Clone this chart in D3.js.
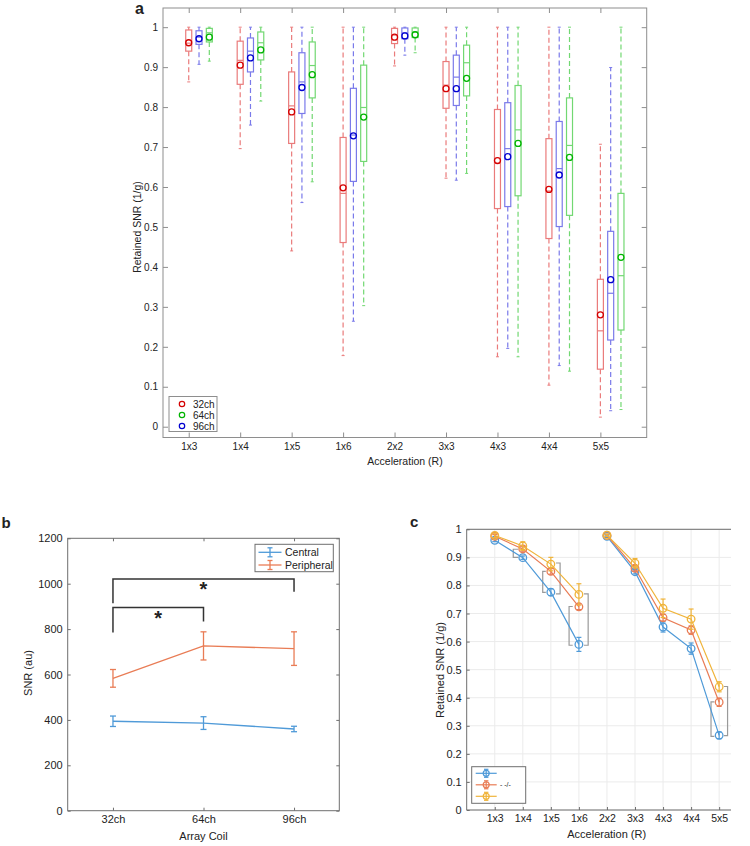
<!DOCTYPE html>
<html><head><meta charset="utf-8">
<script src="https://cdn.jsdelivr.net/npm/d3@7"></script>
<style>
body{margin:0;background:#fff}
svg{display:block}
text{font-family:"Liberation Sans",Arial,Helvetica,sans-serif;fill:#222}
</style>
</head><body>
<svg id="fig" width="750" height="846"></svg>
<script>
// ---------- DATA ----------
const cats = ["1x3","1x4","1x5","1x6","2x2","3x3","4x3","4x4","5x5"];
const yTicksA = [0,0.1,0.2,0.3,0.4,0.5,0.6,0.7,0.8,0.9,1];

// panel a: 32ch (red)
const lo32  = [0.863,0.696,0.440,0.178,0.903,0.622,0.175,0.104,0.024];
const q1_32 = [0.940,0.857,0.709,0.461,0.959,0.797,0.546,0.471,0.144];
const med32 = [0.960,0.917,0.803,0.584,0.980,0.855,0.660,0.590,0.240];
const q3_32 = [0.993,0.965,0.888,0.724,0.997,0.914,0.794,0.721,0.369];
const hi32  = [1,1,1,1,1,1,1,1,0.707];
const mean32= [0.961,0.905,0.788,0.598,0.975,0.846,0.666,0.594,0.280];
// 96ch (blue)
const lo96  = [0.907,0.755,0.561,0.264,0.930,0.617,0.196,0.153,0.040];
const q1_96 = [0.957,0.888,0.784,0.614,0.971,0.804,0.551,0.501,0.217];
const med96 = [0.975,0.940,0.863,0.730,0.986,0.875,0.696,0.646,0.334];
const q3_96 = [0.991,0.973,0.936,0.847,0.998,0.930,0.811,0.764,0.489];
const hi96  = [1,1,1,1,1,1,1,1,0.899];
const mean96= [0.971,0.923,0.849,0.728,0.978,0.846,0.676,0.630,0.368];
// 64ch (green)
const lo64  = [0.915,0.815,0.613,0.303,0.936,0.634,0.175,0.139,0.043];
const q1_64 = [0.963,0.918,0.823,0.664,0.974,0.828,0.578,0.529,0.242];
const med64 = [0.986,0.961,0.904,0.799,0.988,0.911,0.743,0.704,0.378];
const q3_64 = [0.997,0.988,0.963,0.905,0.998,0.955,0.854,0.823,0.584];
const hi64  = [1,1,1,1,1,1,1,1,1];
const mean64= [0.975,0.943,0.881,0.775,0.981,0.872,0.709,0.674,0.424];

// panel b
const coils = ["32ch","64ch","96ch"];
const yTicksB = [0,200,400,600,800,1000,1200];
const central = [394,386,360];
const centralErr = [23,28,12];
const peripheral = [583,726,714];
const peripheralErr = [39,62,74];
const sigB = [ {a:1,b:3,top:1021,la:914,lb:965}, {a:1,b:2,top:895,la:785,lb:833} ];

// panel c
const cBlue = [0.961,0.899,0.776,0.590,0.975,0.849,0.652,0.575,0.266];
const cBlueErr = [0.005,0.006,0.012,0.025,0.004,0.008,0.018,0.020,0.012];
const cOrange = [0.975,0.930,0.850,0.724,0.978,0.861,0.685,0.641,0.384];
const cOrangeErr = [0.006,0.008,0.010,0.010,0.004,0.010,0.012,0.015,0.015];
const cYellow = [0.978,0.9405,0.876,0.768,0.979,0.879,0.7185,0.680,0.439];
const cYellowErr = [0.008,0.015,0.024,0.038,0.004,0.017,0.033,0.036,0.018];
const cBrackets = [
  {x:1.66,tip:1.84,y1:0.929,y2:0.900},
  {x:2.71,tip:2.82,y1:0.850,y2:0.775},
  {x:3.33,tip:3.18,y1:0.880,y2:0.770},
  {x:3.65,tip:3.78,y1:0.725,y2:0.587},
  {x:4.33,tip:4.18,y1:0.770,y2:0.587},
  {x:8.71,tip:8.83,y1:0.385,y2:0.262},
  {x:9.30,tip:9.17,y1:0.440,y2:0.265}
];

// ---------- DRAW ----------
const svg = d3.select("#fig");
const fmtA = d => d===0?"0":d===1?"1":d.toFixed(1);

function frameAxes(g, x, y, xt, yt, xfmt, yfmt, col, fs, tick, right=true){
  const [x0,x1] = x.range(), [y0,y1] = y.range();
  g.append("g").attr("transform",`translate(0,${y0})`)
    .call(d3.axisBottom(x).tickValues(xt).tickFormat(xfmt).tickSizeInner(-tick).tickSizeOuter(0).tickPadding(5))
    .call(s=>{s.select(".domain").remove();s.selectAll("line").attr("stroke",col);s.selectAll("text").attr("font-size",fs).attr("fill","#222").attr("font-family","Liberation Sans, Arial, sans-serif");});
  g.append("g").attr("transform",`translate(${x0},0)`)
    .call(d3.axisLeft(y).tickValues(yt).tickFormat(yfmt).tickSizeInner(-tick).tickSizeOuter(0).tickPadding(5))
    .call(s=>{s.select(".domain").remove();s.selectAll("line").attr("stroke",col);s.selectAll("text").attr("font-size",fs).attr("fill","#222").attr("font-family","Liberation Sans, Arial, sans-serif");});
  g.append("g").attr("transform",`translate(0,${y1})`)
    .call(d3.axisTop(x).tickValues(xt).tickFormat("").tickSizeInner(-tick).tickSizeOuter(0))
    .call(s=>{s.select(".domain").remove();s.selectAll("line").attr("stroke",col);});
  if(right){
    g.append("g").attr("transform",`translate(${x1},0)`)
      .call(d3.axisRight(y).tickValues(yt).tickFormat("").tickSizeInner(-tick).tickSizeOuter(0))
      .call(s=>{s.select(".domain").remove();s.selectAll("line").attr("stroke",col);});
  }
  g.append("rect").attr("x",x0).attr("y",y1).attr("width",x1-x0).attr("height",y0-y1)
    .attr("fill","none").attr("stroke",col).attr("stroke-width",1);
}

// ===== Panel a =====
const xa = d3.scaleLinear().domain([0.5,9.9]).range([163,646.7]);
const ya = d3.scaleLinear().domain([-0.027,1.048]).range([437.5,8]);
const ga = svg.append("g");
frameAxes(ga, xa, ya, d3.range(1,10), yTicksA, (d)=>cats[d-1], fmtA, "#8e8e8e", "10px", 5);

const seriesA = [
  {off:0,   lo:lo32, q1:q1_32, med:med32, q3:q3_32, hi:hi32, mean:mean32, line:"#ea7b7b", dot:"#d40000"},
  {off:0.2, lo:lo96, q1:q1_96, med:med96, q3:q3_96, hi:hi96, mean:mean96, line:"#7a7aea", dot:"#0000d0"},
  {off:0.4, lo:lo64, q1:q1_64, med:med64, q3:q3_64, hi:hi64, mean:mean64, line:"#72d872", dot:"#00b400"}
];
seriesA.forEach(s=>{
  const g = ga.append("g");
  cats.forEach((c,i)=>{
    const cx = xa(i+1+s.off), w = 3;
    // whiskers
    g.append("line").attr("x1",cx).attr("x2",cx).attr("y1",ya(s.q3[i])).attr("y2",ya(s.hi[i]))
      .attr("stroke",s.line).attr("stroke-width",1.2).attr("stroke-dasharray","5,3");
    g.append("line").attr("x1",cx).attr("x2",cx).attr("y1",ya(s.q1[i])).attr("y2",ya(s.lo[i]))
      .attr("stroke",s.line).attr("stroke-width",1.2).attr("stroke-dasharray","5,3");
    [s.hi[i], s.lo[i]].forEach(v=>g.append("line").attr("x1",cx-1.5).attr("x2",cx+1.5)
      .attr("y1",ya(v)).attr("y2",ya(v)).attr("stroke",s.line).attr("stroke-width",1));
    // box
    g.append("rect").attr("x",cx-w).attr("width",2*w)
      .attr("y",ya(s.q3[i])).attr("height",ya(s.q1[i])-ya(s.q3[i]))
      .attr("fill","none").attr("stroke",s.line).attr("stroke-width",1.2);
    g.append("line").attr("x1",cx-w).attr("x2",cx+w).attr("y1",ya(s.med[i])).attr("y2",ya(s.med[i]))
      .attr("stroke",s.line).attr("stroke-width",1.2);
    // mean
    g.append("circle").attr("cx",cx).attr("cy",ya(s.mean[i])).attr("r",3)
      .attr("fill","none").attr("stroke",s.dot).attr("stroke-width",1.3);
  });
});
// legend a
const lgA = ga.append("g");
lgA.append("rect").attr("x",169).attr("y",396.5).attr("width",48).attr("height",35)
  .attr("fill","#fff").attr("stroke","#8e8e8e");
[["32ch","#d40000"],["64ch","#00b400"],["96ch","#0000d0"]].forEach((e,k)=>{
  const yy = 404 + k*11;
  lgA.append("circle").attr("cx",182).attr("cy",yy).attr("r",2.7).attr("fill","none").attr("stroke",e[1]).attr("stroke-width",1.2);
  lgA.append("text").attr("x",193).attr("y",yy).attr("dy","0.35em").attr("font-size","10px").text(e[0]);
});
ga.append("text").attr("x",405).attr("y",465).attr("text-anchor","middle").attr("font-size","10.5px").text("Acceleration (R)");
ga.append("text").attr("transform","translate(137,227) rotate(-90)").attr("text-anchor","middle").attr("dy","0.35em").attr("font-size","10.5px").text("Retained SNR (1/g)");
svg.append("text").attr("x",135).attr("y",14).attr("font-size","16px").attr("font-weight","bold").text("a");

// ===== Panel b =====
const xb = d3.scaleLinear().domain([0.5,3.5]).range([67.7,339.3]);
const yb = d3.scaleLinear().domain([0,1200]).range([810.7,538.3]);
const gb = svg.append("g");
frameAxes(gb, xb, yb, [1,2,3], yTicksB, d=>coils[d-1], d=>d, "#6e6e6e", "11px", 3);
const colBlue = "#4f9ad8", colOrange = "#e97c55", colYellow = "#f0b43a";
function errSeries(g, x, y, vals, errs, col, cap, idx){
  const line = d3.line().x((d,i)=>x(idx[i])).y(d=>y(d));
  g.append("path").attr("d",line(vals)).attr("fill","none").attr("stroke",col).attr("stroke-width",1.3);
  vals.forEach((v,i)=>{
    const cx = x(idx[i]);
    g.append("line").attr("x1",cx).attr("x2",cx).attr("y1",y(v-errs[i])).attr("y2",y(v+errs[i])).attr("stroke",col).attr("stroke-width",1.3);
    [v-errs[i], v+errs[i]].forEach(e=>g.append("line").attr("x1",cx-cap).attr("x2",cx+cap).attr("y1",y(e)).attr("y2",y(e)).attr("stroke",col).attr("stroke-width",1.3));
  });
}
errSeries(gb, xb, yb, central, centralErr, colBlue, 3, [1,2,3]);
errSeries(gb, xb, yb, peripheral, peripheralErr, colOrange, 3, [1,2,3]);
sigB.forEach(s=>{
  gb.append("path").attr("d",`M${xb(s.a)},${yb(s.la)}V${yb(s.top)}H${xb(s.b)}V${yb(s.lb)}`)
    .attr("fill","none").attr("stroke","#333").attr("stroke-width",1.5);
});
gb.append("text").attr("x",(xb(1)+xb(3))/2).attr("y",yb(1021)+17).attr("text-anchor","middle").attr("font-size","20px").attr("font-weight","bold").attr("fill","#111").text("*");
gb.append("text").attr("x",(xb(1)+xb(2))/2).attr("y",yb(895)+17).attr("text-anchor","middle").attr("font-size","20px").attr("font-weight","bold").attr("fill","#111").text("*");
// legend b
const lgB = gb.append("g");
lgB.append("rect").attr("x",255).attr("y",544.3).attr("width",78.3).attr("height",27.4).attr("fill","#fff").attr("stroke","#6e6e6e");
[["Central",colBlue],["Peripheral",colOrange]].forEach((e,k)=>{
  const yy = 552.3 + k*12.7;
  lgB.append("line").attr("x1",258.5).attr("x2",281.5).attr("y1",yy).attr("y2",yy).attr("stroke",e[1]).attr("stroke-width",1.3);
  lgB.append("line").attr("x1",270).attr("x2",270).attr("y1",yy-4.5).attr("y2",yy+4.5).attr("stroke",e[1]).attr("stroke-width",1.3);
  [yy-4.5,yy+4.5].forEach(c=>lgB.append("line").attr("x1",267.5).attr("x2",272.5).attr("y1",c).attr("y2",c).attr("stroke",e[1]).attr("stroke-width",1.3));
  lgB.append("text").attr("x",285).attr("y",yy).attr("dy","0.35em").attr("font-size","10.5px").text(e[0]);
});
gb.append("text").attr("x",203.5).attr("y",840).attr("text-anchor","middle").attr("font-size","11px").text("Array Coil");
gb.append("text").attr("transform","translate(28,673) rotate(-90)").attr("text-anchor","middle").attr("dy","0.35em").attr("font-size","11px").text("SNR (au)");
svg.append("text").attr("x",1.5).attr("y",528).attr("font-size","15px").attr("font-weight","bold").text("b");

// ===== Panel c =====
const xc = d3.scaleLinear().domain([0,10]).range([466.7,747.2]);
const yc = d3.scaleLinear().domain([0,1]).range([810,529.3]);
const xRightC = 731;
const gc = svg.append("g");
// grid
yTicksA.forEach(v=>gc.append("line").attr("x1",xc(0)).attr("x2",xRightC).attr("y1",yc(v)).attr("y2",yc(v)).attr("stroke","#ebebeb"));
d3.range(1,10).forEach(v=>gc.append("line").attr("x1",xc(v)).attr("x2",xc(v)).attr("y1",yc(0)).attr("y2",yc(1)).attr("stroke","#ebebeb"));
// axes
gc.append("g").attr("transform",`translate(0,${yc(0)})`)
  .call(d3.axisBottom(xc).tickValues(d3.range(1,10)).tickFormat(d=>cats[d-1]).tickSizeInner(-3).tickSizeOuter(0).tickPadding(5))
  .call(s=>{s.select(".domain").remove();s.selectAll("line").attr("stroke","#6e6e6e");s.selectAll("text").attr("font-size","10.5px").attr("fill","#222").attr("font-family","Liberation Sans, Arial, sans-serif");});
gc.append("g").attr("transform",`translate(${xc(0)},0)`)
  .call(d3.axisLeft(yc).tickValues(yTicksA).tickFormat(fmtA).tickSizeInner(-3).tickSizeOuter(0).tickPadding(5))
  .call(s=>{s.select(".domain").remove();s.selectAll("line").attr("stroke","#6e6e6e");s.selectAll("text").attr("font-size","11px").attr("fill","#222").attr("font-family","Liberation Sans, Arial, sans-serif");});
gc.append("path").attr("d",`M${xRightC},${yc(1)}H${xc(0)}V${yc(0)}H${xRightC}`).attr("fill","none").attr("stroke","#6e6e6e");
// brackets
cBrackets.forEach(b=>{
  gc.append("path").attr("d",`M${xc(b.tip)},${yc(b.y1)}H${xc(b.x)}V${yc(b.y2)}H${xc(b.tip)}`)
    .attr("fill","none").attr("stroke","#9a9a9a").attr("stroke-width",1.2);
});
function cSeries(vals, errs, col){
  const segs = [[0,1,2,3],[4,5,6,7,8]];
  const line = d3.line().x(i=>xc(i+1)).y(i=>yc(vals[i]));
  segs.forEach(sg=>gc.append("path").attr("d",line(sg)).attr("fill","none").attr("stroke",col).attr("stroke-width",1.2));
  vals.forEach((v,i)=>{
    const cx = xc(i+1);
    gc.append("line").attr("x1",cx).attr("x2",cx).attr("y1",yc(v-errs[i])).attr("y2",yc(v+errs[i])).attr("stroke",col).attr("stroke-width",1.2);
    [v-errs[i],v+errs[i]].forEach(e=>gc.append("line").attr("x1",cx-2.5).attr("x2",cx+2.5).attr("y1",yc(e)).attr("y2",yc(e)).attr("stroke",col).attr("stroke-width",1.2));
    gc.append("circle").attr("cx",cx).attr("cy",yc(v)).attr("r",3.8).attr("fill","none").attr("stroke",col).attr("stroke-width",1.3);
  });
}
cSeries(cBlue, cBlueErr, colBlue);
cSeries(cOrange, cOrangeErr, colOrange);
cSeries(cYellow, cYellowErr, colYellow);
// legend c
const lgC = gc.append("g");
lgC.append("rect").attr("x",471.7).attr("y",766.7).attr("width",54).attr("height",36.6).attr("fill","#fff").attr("stroke","#6e6e6e");
[colBlue,colOrange,colYellow].forEach((col,k)=>{
  const yy = 773.3 + k*11.5;
  lgC.append("line").attr("x1",475.7).attr("x2",496.7).attr("y1",yy).attr("y2",yy).attr("stroke",col).attr("stroke-width",1.2);
  lgC.append("line").attr("x1",486.2).attr("x2",486.2).attr("y1",yy-4).attr("y2",yy+4).attr("stroke",col).attr("stroke-width",1.2);
  [yy-4,yy+4].forEach(c=>lgC.append("line").attr("x1",484).attr("x2",488.4).attr("y1",c).attr("y2",c).attr("stroke",col).attr("stroke-width",1.2));
  lgC.append("circle").attr("cx",486.2).attr("cy",yy).attr("r",3).attr("fill","none").attr("stroke",col).attr("stroke-width",1.2);
});
lgC.append("text").attr("x",500).attr("y",785).attr("dy","0.35em").attr("font-size","7px").attr("fill","#777").text("- -/-");
gc.append("text").attr("x",606.7).attr("y",838).attr("text-anchor","middle").attr("font-size","11px").text("Acceleration (R)");
gc.append("text").attr("transform","translate(440,670) rotate(-90)").attr("text-anchor","middle").attr("dy","0.35em").attr("font-size","11px").text("Retained SNR (1/g)");
svg.append("text").attr("x",410).attr("y",527).attr("font-size","15px").attr("font-weight","bold").text("c");
</script>
</body></html>
